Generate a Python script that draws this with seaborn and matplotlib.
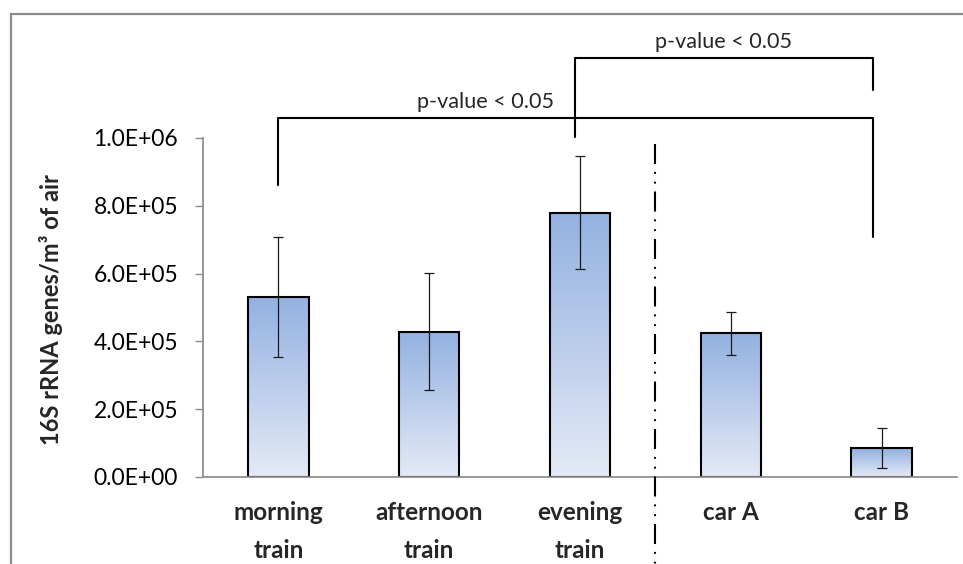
import numpy as np
import pandas as pd
import matplotlib
matplotlib.use("Agg")
import matplotlib.pyplot as plt
import seaborn as sns
from matplotlib.colors import LinearSegmentedColormap
from matplotlib.patches import Rectangle

# Sampling sites and measured 16S rRNA gene concentrations (genes per m3 of air)
categories = ["morning\ntrain", "afternoon\ntrain", "evening\ntrain", "car A", "car B"]
means = [5.31e5, 4.29e5, 7.80e5, 4.24e5, 0.85e5]
errors = [1.78e5, 1.73e5, 1.67e5, 0.63e5, 0.60e5]
y_ticks = [0.0, 2.0e5, 4.0e5, 6.0e5, 8.0e5, 1.0e6]
y_tick_labels = ["0.0E+00", "2.0E+05", "4.0E+05", "6.0E+05", "8.0E+05", "1.0E+06"]
sig_label = "p-value < 0.05"

sns.set_theme(style="white")
plt.rcParams["font.family"] = ["Lato", "DejaVu Sans"]

df = pd.DataFrame({"site": categories, "value": means})

fig = plt.figure(figsize=(9.63, 5.64), dpi=100)
ax = fig.add_axes([0.2108, 0.1543, 0.783, 0.7814])

sns.barplot(data=df, x="site", y="value", order=categories, width=0.4,
            color="#a8bfe6", edgecolor="black", linewidth=1.5, ax=ax, zorder=2)

# Vertical blue gradient inside each bar, clipped to the bar outline
grad = LinearSegmentedColormap.from_list("bar_grad", ["#e4eaf6", "#93b1e1"])
ax.set_xlim(-0.5, 4.5)
ax.set_ylim(0, 1.3e6)
for patch in ax.patches:
    x0, y0 = patch.get_x(), patch.get_y()
    w, h = patch.get_width(), patch.get_height()
    patch.set_facecolor("none")
    img = ax.imshow(np.linspace(0, 1, 256).reshape(-1, 1), cmap=grad, origin="lower",
                    extent=[x0, x0 + w, y0, y0 + h], aspect="auto", zorder=1.5)
    img.set_clip_path(patch)
ax.set_aspect("auto")
ax.set_xlim(-0.5, 4.5)
ax.set_ylim(0, 1.3e6)

ax.errorbar(range(len(means)), means, yerr=errors, fmt="none", ecolor="#1a1a1a",
            elinewidth=0.9, capsize=3.6, capthick=0.9, zorder=3)

# Axes styling
for side in ["top", "right"]:
    ax.spines[side].set_visible(False)
ax.spines["left"].set_bounds(0, 1.0e6)
ax.spines["left"].set_color("#8c8c8c")
ax.spines["bottom"].set_color("#8c8c8c")
ax.set_yticks(y_ticks)
ax.set_yticklabels(y_tick_labels, fontsize=16.5, color="black")
ax.tick_params(axis="y", length=6, width=1.0, color="#8c8c8c", direction="out",
               left=True, pad=12)
ax.tick_params(axis="x", length=0, pad=17)
for lbl in ax.get_xticklabels():
    lbl.set_fontsize(17.5)
    lbl.set_fontweight("bold")
    lbl.set_linespacing(1.8)
ax.set_xlabel("")
ax.set_ylabel("16S rRNA genes/m³ of air", fontsize=17, fontweight="bold")
ax.yaxis.set_label_coords(-0.186, 0.381)

# Dash-dot-dot separator between train and car samples
ax.plot([2.5, 2.5], [0.982e6, -0.26e6], color="black", lw=1.5,
        linestyle=(0, (9.6, 3.8, 0.9, 3.8, 0.9, 3.8)), clip_on=False, zorder=4)

# Significance brackets
ax.plot([0, 0, 3.943, 3.943], [0.861e6, 1.059e6, 1.059e6, 0.708e6],
        color="black", lw=1.5, clip_on=False, zorder=4)
ax.plot([1.967, 1.967, 3.943, 3.943], [1.003e6, 1.236e6, 1.236e6, 1.142e6],
        color="black", lw=1.5, clip_on=False, zorder=4)
ax.text(1.37, 1.106e6, sig_label, ha="center", va="center", fontsize=15.6)
ax.text(2.95, 1.283e6, sig_label, ha="center", va="center", fontsize=15.6)

# Outer chart frame
fig.patches.append(Rectangle((11 / 963, -0.1), 1.2, 1 - 14 / 564 + 0.1,
                             transform=fig.transFigure, fill=False,
                             edgecolor="#8c8c8c", lw=1.6))

fig.savefig("out.png", dpi=100)
